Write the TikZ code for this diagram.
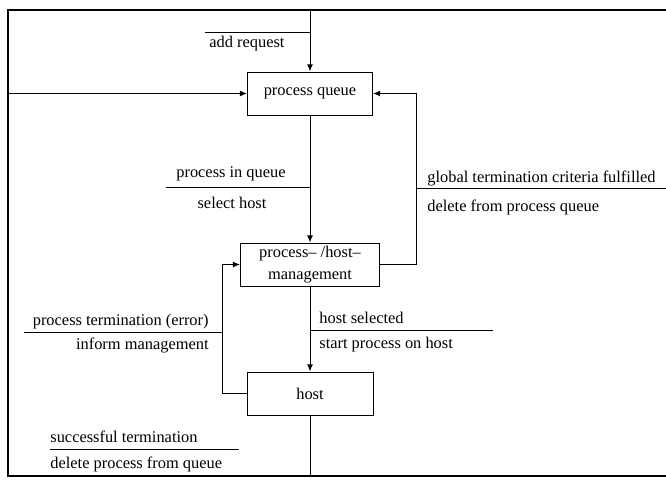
\documentclass[tikz,border=0pt]{standalone}
\usepackage{fontspec}
\setmainfont{Liberation Serif}
\usetikzlibrary{arrows.meta}

\begin{document}
\begin{tikzpicture}[x=0.5pt,y=-0.5pt,
    font=\fontsize{8.2}{11}\selectfont,
    state/.style={draw, line width=0.5pt, inner sep=1pt, minimum height=21.5pt, align=center},
    arr/.style={line width=0.5pt, -{Latex[length=3.6pt,width=3pt]}},
    bar/.style={line width=0.5pt},
    lbl/.style={inner sep=0pt}]
    \useasboundingbox (0,0) rectangle (666,482);

    %frame
    \draw[line width=1pt] (666,10) -- (8,10) -- (8,476) -- (666,476);

    %states
    \node[state, minimum width=62.5pt] (queue) at (310,93.5) {process queue};
    \node[state, minimum width=69.5pt] (mgmt) at (310,264.5) {process-- /host--\\management};
    \node[state, minimum width=63pt] (host) at (310,393.5) {host};

    \coordinate (reqin) at (310,10);
    \coordinate (loopin) at (8,93.5);
    \coordinate (done) at (310,476);

    %transitions
    \draw[arr] (reqin) -- (queue.north);
    \draw[arr] (loopin) -- (queue.west);
    \draw[arr] (queue.south) -- (mgmt.north);
    \draw[arr] (mgmt.east) -- ++(36.5,0) |- (queue.east);
    \draw[arr] (mgmt.south) -- (host.north);
    \draw[arr] (host.west) -- ++(-24,0) |- (mgmt.west);
    \draw[line width=0.5pt] (host.south) -- (done);

    %conditions / actions
    \draw[bar] (205,32) -- (310,32);
    \node[lbl, anchor=west] (addreq) at (209,44) {add request};

    \draw[bar] (166,187) -- (310,187);
    \node[lbl] (inqueue) at (231,174) {process in queue};
    \node[lbl] (select) at (232,203) {select host};

    \draw[bar] (416,188) -- (666,188);
    \node[lbl, anchor=west] (global) at (427,178) {global termination criteria fulfilled};
    \node[lbl, anchor=west] (delqueue) at (427,207) {delete from process queue};

    \draw[bar] (310,330) -- (493,330);
    \node[lbl, anchor=west] (selected) at (319,318) {host selected};
    \node[lbl, anchor=west] (start) at (319,345) {start process on host};

    \draw[bar] (24,332) -- (223,332);
    \node[lbl, anchor=east] (error) at (209,322) {process termination (error)};
    \node[lbl, anchor=east] (inform) at (209,345) {inform management};

    \draw[bar] (50,449) -- (239,449);
    \node[lbl, anchor=west] (success) at (50,437) {successful termination};
    \node[lbl, anchor=west] (delproc) at (50,464) {delete process from queue};
\end{tikzpicture}
\end{document}
